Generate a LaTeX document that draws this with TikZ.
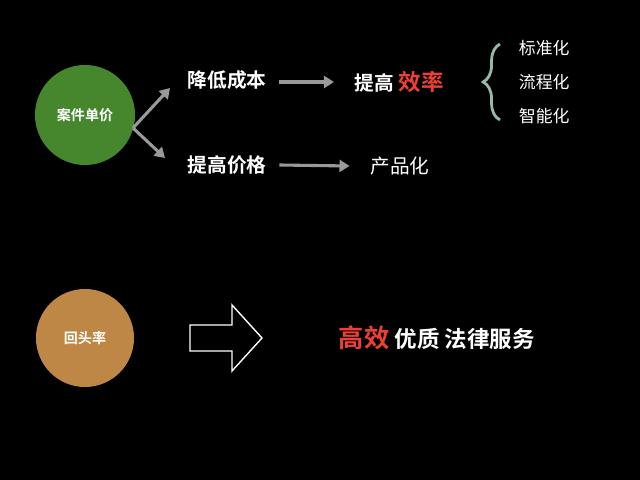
\documentclass[tikz,border=0pt]{standalone}
\usepackage{fontspec}
\setmainfont{Noto Sans CJK SC}[BoldFont={Noto Sans CJK SC Bold}]
\usetikzlibrary{arrows.meta, positioning, calc, decorations.pathreplacing}
\definecolor{leafgreen}{RGB}{70,135,45}
\definecolor{clay}{RGB}{190,135,70}
\definecolor{hotred}{RGB}{235,65,50}
\definecolor{bracecol}{RGB}{150,185,170}

\begin{document}
\begin{tikzpicture}[x=0.025cm, y=-0.025cm,
  disc/.style = {circle, minimum size=2.5cm, text=white, font=\fontsize{10}{11}\selectfont\bfseries},
  heading/.style = {text=white, font=\fontsize{14}{16}\selectfont\bfseries},
  plain/.style = {text=white, font=\fontsize{14}{16}\selectfont},
  small/.style = {text=white, font=\fontsize{12}{14}\selectfont},
  arrow/.style = {draw=gray!80, line width=2.2pt, -{Triangle[width=3mm,length=2.5mm]}}
]
\fill[black] (0,0) rectangle (640,480);

% ======================================================
% TOP: case price
% ======================================================
\node[disc, fill=leafgreen] (price) at (85,115) {案件单价};
\coordinate (fork) at (133,128);

\node[heading] (cut) at (227,80) {降低成本};
\node[heading] (raise) at (227,165) {提高价格};

\draw[arrow] (fork) -- (170,88);
\draw[arrow] (fork) -- (165,158);

\node[heading, anchor=west] (boost) at (350,82) {提高 \textcolor{hotred}{\fontsize{16}{18}\selectfont 效率}};
\node[plain] (product) at (400,166) {产品化};

\draw[arrow] ($(cut.east)+(8,2)$) -- ($(boost.west)+(-16,0)$);
\draw[arrow] ($(raise.east)+(8,0)$) -- ($(product.west)+(-16,0)$);

\node[small, anchor=west] (std) at (514,48) {标准化};
\node[small, anchor=west] (flow) at (514,82) {流程化};
\node[small, anchor=west] (smart) at (514,116) {智能化};

\draw[bracecol, line width=2pt, decorate, decoration={brace, amplitude=12pt}]
  (500,120) -- (500,44);

% ======================================================
% BOTTOM: return rate
% ======================================================
\node[disc, fill=clay, minimum size=2.45cm] (ret) at (85,338) {回头率};

\draw[white, line width=1pt] (190,325) -- (232,325) -- (232,305) -- (262,338)
  -- (232,371) -- (232,351) -- (190,351) -- cycle;

\node[heading, anchor=west, font=\fontsize{16}{18}\selectfont\bfseries] (service) at (334,338)
  {\textcolor{hotred}{\fontsize{18}{20}\selectfont 高效} 优质 法律服务};
\end{tikzpicture}
\end{document}
